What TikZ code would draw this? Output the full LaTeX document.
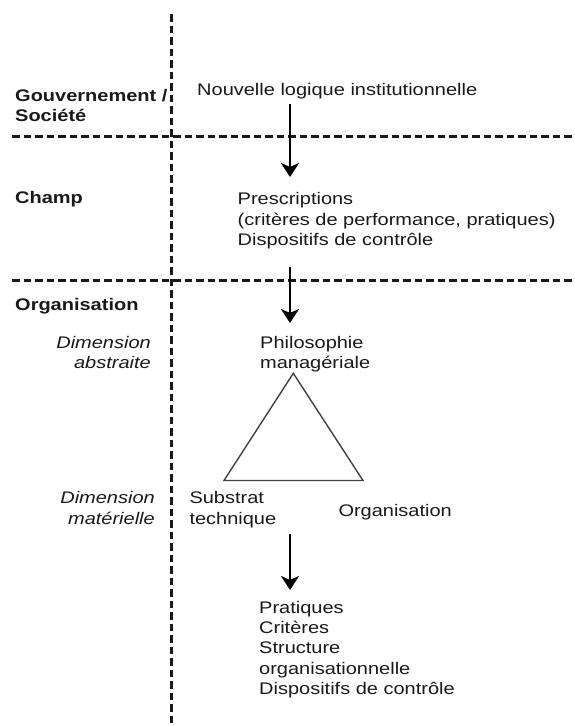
\documentclass[tikz,border=0pt]{standalone}
\usepackage{fontspec}
\setmainfont{Liberation Sans}[FakeStretch=1.19]
\usetikzlibrary{arrows.meta}
\begin{document}
\begin{tikzpicture}[x=1pt,y=-1pt,
  txt/.style={inner sep=0pt,font=\fontsize{16.8}{20.3}\selectfont,text=black!90},
  lefttxt/.style={txt,align=left,anchor=base west},
  righttxt/.style={txt,align=right,anchor=base east,font=\fontsize{16.8}{20.3}\selectfont\itshape},
  boldtxt/.style={txt,align=left,anchor=base west,font=\fontsize{16.8}{19.5}\selectfont\bfseries},
  sep/.style={line width=3pt,dash pattern=on 7.5pt off 4pt,black!90},
  flow/.style={line width=2.8pt,-{Stealth[length=14pt,width=18pt,inset=4pt]}},
  tri/.style={line width=1.4pt,black!75,line join=miter}
]
\useasboundingbox (0,0) rectangle (575,726);
% separators
\coordinate (vtop) at (171.5,14);
\coordinate (vbot) at (171.5,726);
\coordinate (h1l) at (12,136);
\coordinate (h1r) at (575,136);
\coordinate (h2l) at (12,280);
\coordinate (h2r) at (575,280);
\draw[sep] (vtop) -- (vbot);
\draw[sep] (h1l) -- (h1r);
\draw[sep] (h2l) -- (h2r);
% level labels (anchor = baseline of last line)
\node[boldtxt] (gouv) at (15,121) {Gouvernement /\\Société};
\node[boldtxt] (champ) at (15,203) {Champ};
\node[boldtxt] (orga) at (15,310) {Organisation};
\node[righttxt] (dabs) at (151,368.3) {Dimension\\abstraite};
\node[righttxt] (dmat) at (155,524) {Dimension\\matérielle};
% contents
\node[lefttxt] (logique) at (197,95) {Nouvelle logique institutionnelle};
\node[lefttxt] (presc) at (237.5,245.5) {Prescriptions\\(critères de performance, pratiques)\\Dispositifs de contrôle};
\node[lefttxt] (philo) at (260,368.3) {Philosophie\\managériale};
\node[lefttxt] (subst) at (189.3,524) {Substrat\\technique};
\node[lefttxt] (orgn) at (338.3,516.7) {Organisation};
\node[lefttxt] (prat) at (259,694.5) {Pratiques\\Critères\\Structure\\organisationnelle\\Dispositifs de contrôle};
% triangle
\coordinate (tA) at (293.3,373.3);
\coordinate (tB) at (224,480.5);
\coordinate (tC) at (363,480.5);
\draw[tri] (tA) -- (tB) -- (tC) -- cycle;
% arrows
\coordinate (a1s) at (290,104);
\coordinate (a1e) at (290,177);
\coordinate (a2s) at (290,266.5);
\coordinate (a2e) at (290,323);
\coordinate (a3s) at (290,533.5);
\coordinate (a3e) at (290,590);
\draw[flow] (a1s) -- (a1e);
\draw[flow] (a2s) -- (a2e);
\draw[flow] (a3s) -- (a3e);
\end{tikzpicture}
\end{document}
